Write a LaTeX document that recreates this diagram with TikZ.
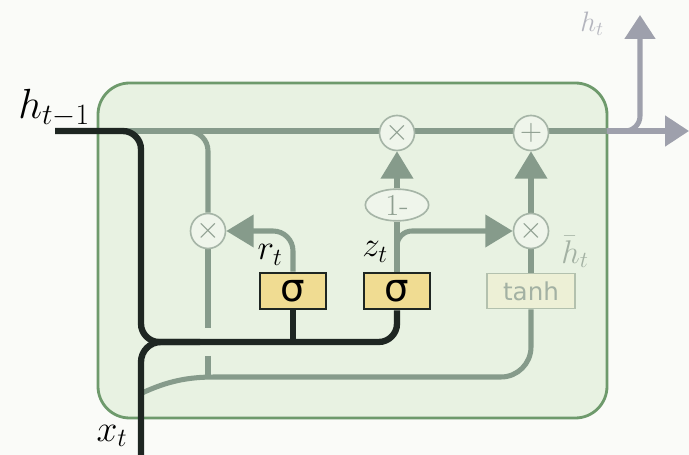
\RequirePackage{fix-cm}
\documentclass[tikz,border=0pt]{standalone}
\usepackage{fontspec}
\newfontfamily\dejavu{DejaVu Sans}
\usetikzlibrary{arrows.meta,shapes.geometric}
\pgfdeclarelayer{back}
\pgfsetlayers{back,main}

\definecolor{paper}{HTML}{FAFBF8}
\definecolor{cellfill}{HTML}{E8F2E2}
\definecolor{cellline}{HTML}{6E9A6C}
\definecolor{flow}{HTML}{869B8B}
\definecolor{flowout}{HTML}{9EA0AC}
\definecolor{ink}{HTML}{1E2622}
\definecolor{opfill}{HTML}{EFF5EB}
\definecolor{opline}{HTML}{A6B5A7}
\definecolor{opsym}{HTML}{8E9E90}
\definecolor{gatefill}{HTML}{F0DC92}
\definecolor{tanhfill}{HTML}{EDF0D6}
\definecolor{tanhline}{HTML}{B3C1AE}
\definecolor{faint}{HTML}{A3B1A3}
\definecolor{faintout}{HTML}{B4B5BE}

\tikzset{
  flowline/.style={draw=flow, line width=4.3pt},
  outline/.style={draw=flowout, line width=4.3pt},
  inkline/.style={draw=ink, line width=5.4pt},
  bigtip/.style={-{Triangle[length=0.82cm, width=0.95cm]}},
  outtip/.style={-{Triangle[length=0.72cm, width=0.9cm]}},
  opnode/.style={circle, draw=opline, fill=opfill, line width=1.4pt,
    minimum size=1.05cm, inner sep=0pt, text=opsym,
    font=\fontsize{26}{26}\selectfont},
  onebox/.style={ellipse, draw=opline, fill=opfill, line width=1.4pt,
    minimum width=1.9cm, minimum height=0.95cm, inner sep=0pt, text=opsym,
    font=\fontsize{26}{26}\selectfont},
  gatebox/.style={rectangle, draw=ink, fill=gatefill, line width=1.6pt,
    minimum width=1.98cm, minimum height=1.1cm, inner sep=0pt,
    font=\dejavu\fontsize{33}{33}\selectfont},
  tanhbox/.style={rectangle, draw=tanhline, fill=tanhfill, line width=1.4pt,
    minimum width=2.64cm, minimum height=1.05cm, inner sep=0pt, text=faint,
    font=\dejavu\fontsize{21}{21}\selectfont},
  lbl/.style={inner sep=0pt, font=\fontsize{30}{34}\selectfont},
}

\begin{document}
\begin{tikzpicture}[x=0.03cm, y=-0.03cm]
  \useasboundingbox (0,0) rectangle (689,455);

  % operations and gates
  \node[opnode] (mulL) at (208,231) {$\times$};
  \node[opnode] (mulT) at (397,133) {$\times$};
  \node[opnode] (add)  at (531,133) {$+$};
  \node[opnode] (mulR) at (531,231) {$\times$};
  \node[onebox] (omz)  at (397,205) {1-};
  \node[gatebox] (sigr) at (293,291) {σ};
  \node[gatebox] (sigz) at (397,291) {σ};
  \node[tanhbox] (tanh) at (531,291) {tanh};

  % labels
  \node[lbl, font=\fontsize{36}{40}\selectfont] (lhprev) at (54,108) {$h_{t-1}$};
  \node[lbl] (lr)  at (270,255) {$r_t$};
  \node[lbl] (lz)  at (375,252) {$z_t$};
  \node[lbl, text=faint, font=\fontsize{28}{32}\selectfont] (lhbar) at (575,252) {$\bar{h}_t$};
  \node[lbl, font=\fontsize{32}{36}\selectfont] (lx)  at (112,436) {$x_t$};
  \node[lbl, text=faintout, font=\fontsize{24}{28}\selectfont] (lhout) at (592,24) {$h_t$};

  \coordinate (hin)  at (55,131);
  \coordinate (xin)  at (141,455);
  \coordinate (hout) at (689,131);
  \coordinate (hup)  at (640,15);

  \begin{pgfonlayer}{back}
    \fill[paper] (0,0) rectangle (689,455);
    % cell body
    \draw[cellline, fill=cellfill, line width=2.4pt, rounded corners=0.95cm]
      (98,83) rectangle (607,418);

    % hidden-state highway
    \draw[flowline] (125,131) -- (607,131);
    \draw[outline, outtip] (607,131) -- (hout);
    \draw[outline, outtip, rounded corners=0.45cm] (615,131) -- (640,131) -- (hup);

    % reset branch
    \draw[flowline, rounded corners=0.6cm] (178,131) -- (208,131) -- (mulL.north);
    \draw[flowline] (mulL.south) -- (208,328);
    \draw[flowline] (208,356) -- (208,377);
    \draw[flowline, bigtip, rounded corners=0.6cm]
      (sigr.north) -- (sigr.north |- mulL) -- (mulL.east);

    % candidate path
    \draw[flowline] (142,393) .. controls (168,381) and (188,377) .. (215,377)
      [rounded corners=0.9cm] -- (531,377) -- (tanh.south);
    \draw[flowline] (tanh.north) -- (mulR.south);
    \draw[flowline, bigtip] (mulR.north) -- (add.south);

    % update gate
    \draw[flowline] (sigz.north) -- (omz.south);
    \draw[flowline, bigtip] (omz.north) -- (mulT.south);
    \draw[flowline, bigtip, rounded corners=0.45cm]
      (397,252) -- (sigz.north |- mulR) -- (mulR.west);

    % inputs
    \draw[inkline, rounded corners=0.55cm]
      (hin) -- (141,131) -- (141,342) -- (397,342) -- (sigz.south);
    \draw[inkline] (sigr.south) -- (sigr.south |- 0,342);
    \draw[inkline, rounded corners=0.6cm] (xin) -- (141,342) -- (200,342);
  \end{pgfonlayer}
\end{tikzpicture}
\end{document}
